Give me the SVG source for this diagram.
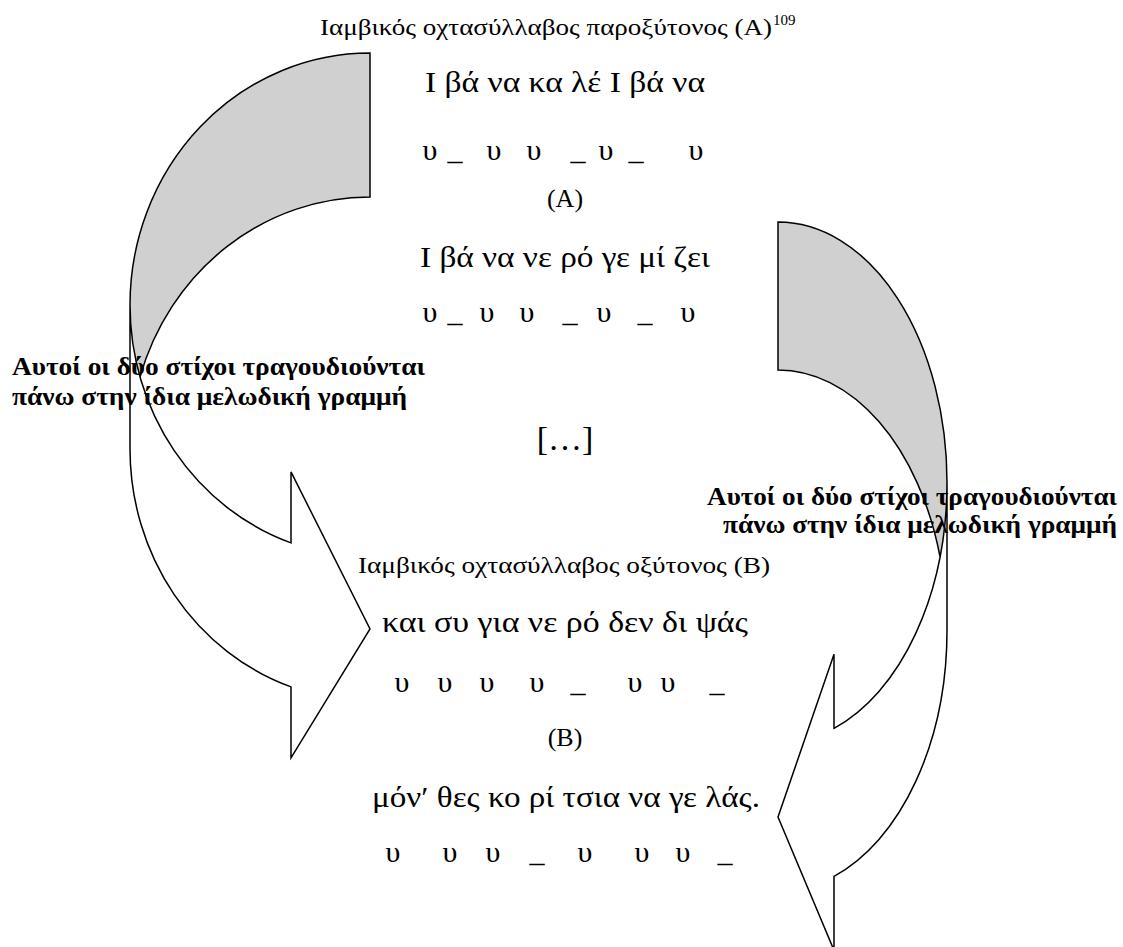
<svg xmlns="http://www.w3.org/2000/svg" width="1123" height="947" viewBox="0 0 1123 947">
<style>
.t{font-family:"Liberation Serif","DejaVu Serif",serif;fill:#000}
.h{font-size:24px}
.l{font-size:30px}
.r{font-size:30px;text-anchor:middle}
.c{font-size:26px;text-anchor:middle}
.b{font-size:25px;font-weight:bold}
.front{fill:#fff;stroke:none}
.back{fill:#d0d0d0;stroke:none}
.edge{fill:none;stroke:#000;stroke-width:1.5;stroke-linejoin:miter}
</style>
<rect width="1123" height="947" fill="#fff"/>
<g id="connectors">
  <g id="arrow-left">
    <path class="front" d="M130 305 A240 252 0 0 0 291 542.9 L291 471.9 L370 629 L291 757.9 L291 686.9 A240 252 0 0 1 130 449 Z"/>
    <path class="back" d="M370 53 A240 252 0 0 0 130 305 A240 252 0 0 0 140 377 A240 252 0 0 1 370 197 Z"/>
    <path class="edge" d="M130 305 A240 252 0 0 0 291 542.9 L291 471.9 L370 629 L291 757.9 L291 686.9 A240 252 0 0 1 130 449 L130 305 A240 252 0 0 1 370 53 L370 197 A240 252 0 0 0 140 377"/>
  </g>
  <g id="arrow-right">
    <path class="front" d="M947 482.5 A169 260.5 0 0 1 834 728.3 L834 654.3 L778 817 L834 950.3 L834 876.3 A169 260.5 0 0 0 947 630.5 Z"/>
    <path class="back" d="M778 222 A169 260.5 0 0 1 947 482.5 A169 260.5 0 0 1 940 556.5 A169 260.5 0 0 0 778 370 Z"/>
    <path class="edge" d="M947 482.5 A169 260.5 0 0 1 834 728.3 L834 654.3 L778 817 L834 950.3 L834 876.3 A169 260.5 0 0 0 947 630.5 L947 482.5 A169 260.5 0 0 0 778 222 L778 370 A169 260.5 0 0 1 940 556.5"/>
  </g>
</g>
<g id="verse-A">
  <text class="t h" x="320" y="35" textLength="452" lengthAdjust="spacingAndGlyphs">Ιαμβικός οχτασύλλαβος παροξύτονος (Α)</text>
  <text class="t" x="773" y="25" font-size="15">109</text>
  <text class="t l" x="425" y="92" textLength="280" lengthAdjust="spacingAndGlyphs">Ι βά να κα λέ Ι βά να</text>
  <text class="t r" y="160"><tspan x="430">υ</tspan><tspan x="455">_</tspan><tspan x="494">υ</tspan><tspan x="534">υ</tspan><tspan x="578">_</tspan><tspan x="606">υ</tspan><tspan x="636">_</tspan><tspan x="696">υ</tspan></text>
  <text class="t c" x="565" y="207">(Α)</text>
  <text class="t l" x="420" y="267" textLength="290" lengthAdjust="spacingAndGlyphs">Ι βά να νε ρό γε μί ζει</text>
  <text class="t r" y="322"><tspan x="430">υ</tspan><tspan x="455">_</tspan><tspan x="487">υ</tspan><tspan x="527">υ</tspan><tspan x="570">_</tspan><tspan x="604">υ</tspan><tspan x="645">_</tspan><tspan x="688">υ</tspan></text>
</g>
<g id="ellipsis">
  <text class="t" x="565" y="450" font-size="34" text-anchor="middle">[…]</text>
</g>
<g id="label-left">
  <text class="t b" x="12" y="375" textLength="413" lengthAdjust="spacingAndGlyphs">Αυτοί οι δύο στίχοι τραγουδιούνται</text>
  <text class="t b" x="12" y="405" textLength="395" lengthAdjust="spacingAndGlyphs">πάνω στην ίδια μελωδική γραμμή</text>
</g>
<g id="label-right">
  <text class="t b" x="1117" y="505" text-anchor="end" textLength="410" lengthAdjust="spacingAndGlyphs">Αυτοί οι δύο στίχοι τραγουδιούνται</text>
  <text class="t b" x="1117" y="533" text-anchor="end" textLength="394" lengthAdjust="spacingAndGlyphs">πάνω στην ίδια μελωδική γραμμή</text>
</g>
<g id="verse-B">
  <text class="t h" x="358" y="573" textLength="412" lengthAdjust="spacingAndGlyphs">Ιαμβικός οχτασύλλαβος οξύτονος (Β)</text>
  <text class="t l" x="382" y="632" textLength="366" lengthAdjust="spacingAndGlyphs">και συ για νε ρό δεν δι ψάς</text>
  <text class="t r" y="692"><tspan x="402">υ</tspan><tspan x="445">υ</tspan><tspan x="487">υ</tspan><tspan x="537">υ</tspan><tspan x="578">_</tspan><tspan x="635">υ</tspan><tspan x="668">υ</tspan><tspan x="717">_</tspan></text>
  <text class="t c" x="565" y="746">(Β)</text>
  <text class="t l" x="372" y="807" textLength="388" lengthAdjust="spacingAndGlyphs">μόν′ θες κο ρί τσια να γε λάς.</text>
  <text class="t r" y="862"><tspan x="393">υ</tspan><tspan x="450">υ</tspan><tspan x="493">υ</tspan><tspan x="537">_</tspan><tspan x="585">υ</tspan><tspan x="642">υ</tspan><tspan x="683">υ</tspan><tspan x="725">_</tspan></text>
</g>
</svg>
